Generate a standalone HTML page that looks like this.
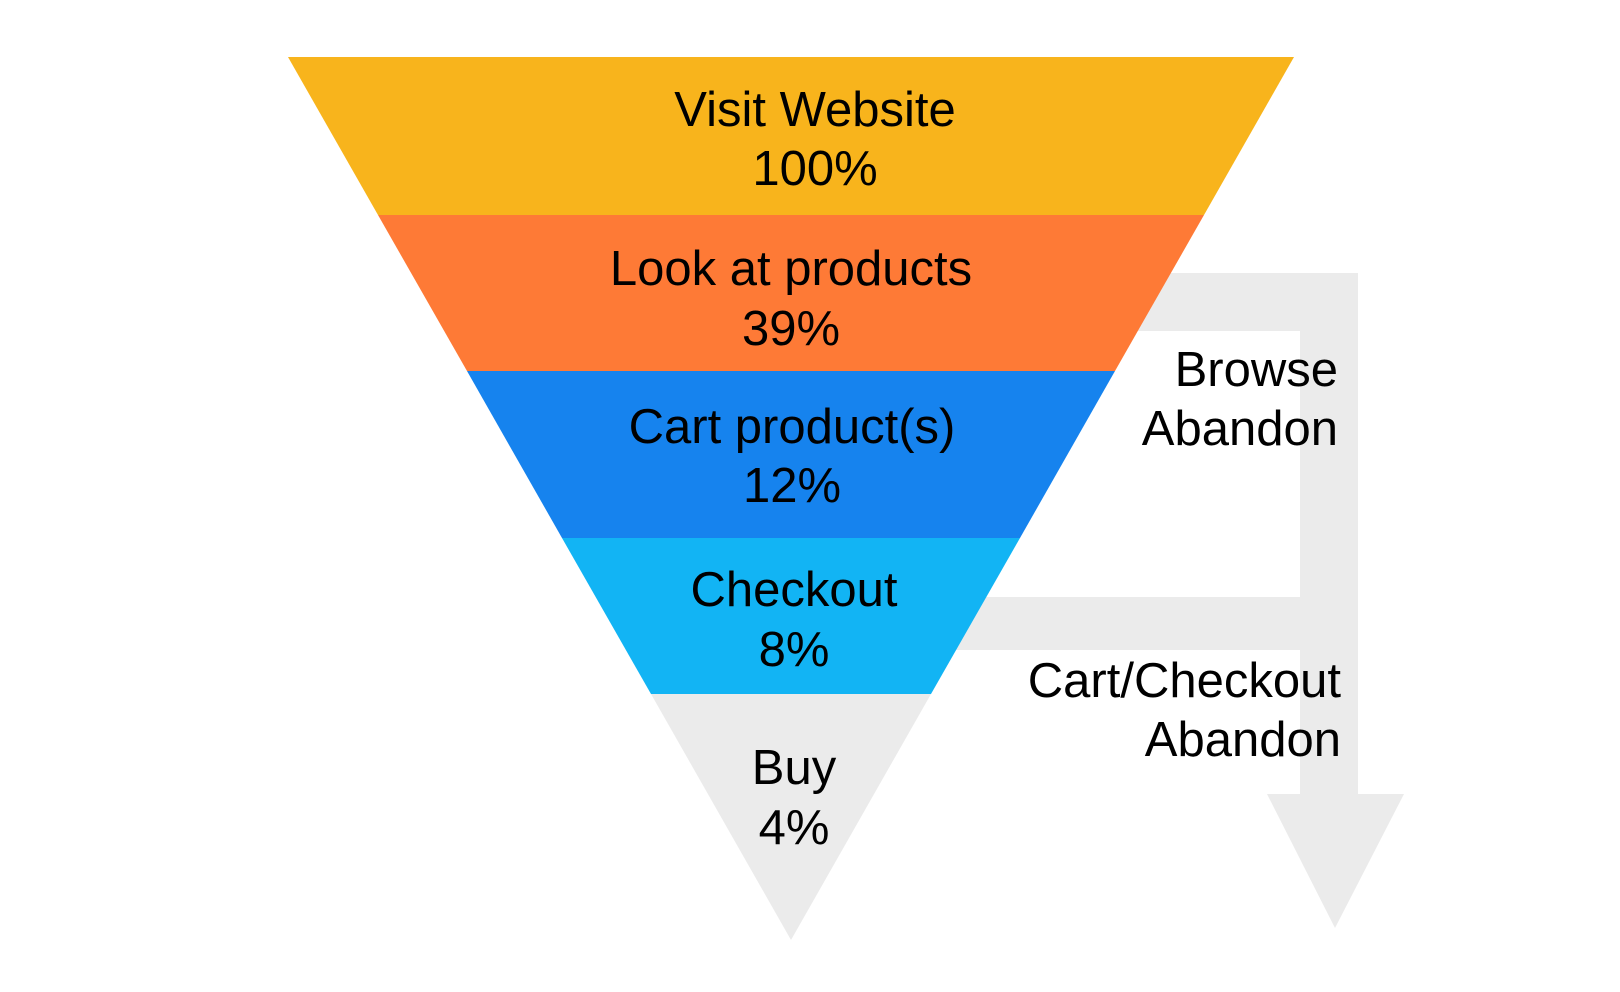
<!DOCTYPE html>
<html><head><meta charset="utf-8"><style>
html,body{margin:0;padding:0;background:#fff;}
svg{display:block;}
text{font-family:"Liberation Sans",sans-serif;font-size:49px;fill:#000;}
</style></head><body>
<svg width="1620" height="992" viewBox="0 0 1620 992" xmlns="http://www.w3.org/2000/svg">
<g fill="#ebebeb">
<rect x="1100" y="273" width="258" height="58"/>
<rect x="1300" y="273" width="58" height="524"/>
<rect x="900" y="597" width="458" height="53"/>
<polygon points="1267,794 1404,794 1335,928"/>
</g>
<polygon points="288,57 1294,57 1204,215 378,215" fill="#f8b41c"/>
<polygon points="378,215 1204,215 1115,371 467,371" fill="#fe7a36"/>
<polygon points="467,371 1115,371 1020,538 562,538" fill="#1683ee"/>
<polygon points="562,538 1020,538 931,694 651,694" fill="#12b4f4"/>
<polygon points="651,694 931,694 791,940" fill="#ebebeb"/>
<g text-anchor="middle">
<text x="815" y="126">Visit Website</text>
<text x="815" y="185">100%</text>
<text x="791" y="285">Look at products</text>
<text x="791" y="345">39%</text>
<text x="792" y="443">Cart product(s)</text>
<text x="792" y="502">12%</text>
<text x="794" y="606">Checkout</text>
<text x="794" y="666">8%</text>
<text x="794" y="784">Buy</text>
<text x="794" y="844">4%</text>
</g>
<g text-anchor="end">
<text x="1338" y="386">Browse</text>
<text x="1338" y="445">Abandon</text>
<text x="1341" y="697">Cart/Checkout</text>
<text x="1341" y="756">Abandon</text>
</g>
</svg>
</body></html>
